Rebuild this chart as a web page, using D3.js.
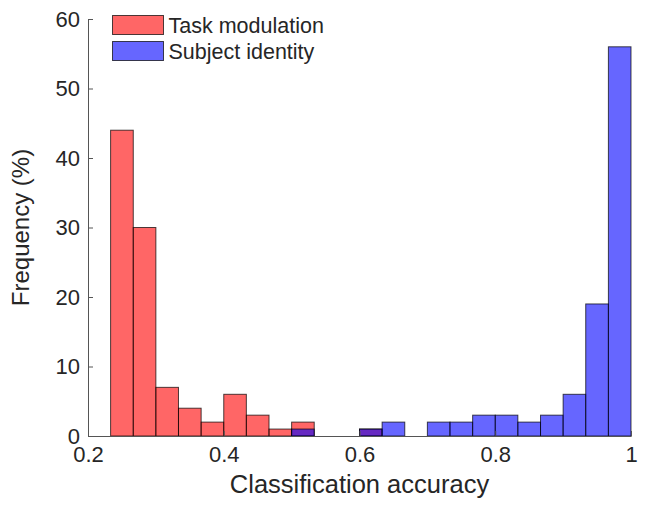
<!DOCTYPE html>
<html>
<head>
<meta charset="utf-8">
<script src="https://d3js.org/d3.v7.min.js"></script>
<style>
  body { margin: 0; background: #fff; }
  text { font-family: "Liberation Sans", Arial, sans-serif; fill: #262626; }
</style>
</head>
<body>
<script>
// bin edges (classification accuracy), 1/30 wide
const binEdges = [0.2333, 0.2667, 0.3, 0.3333, 0.3667, 0.4, 0.4333, 0.4667, 0.5, 0.5333,
  0.5667, 0.6, 0.6333, 0.6667, 0.7, 0.7333, 0.7667, 0.8, 0.8333, 0.8667, 0.9, 0.9333, 0.9667, 1.0];
const taskFreq = [44, 30, 7, 4, 2, 6, 3, 1, 2, 0, 0, 1, 0, 0, 0, 0, 0, 0, 0, 0, 0, 0, 0];
const subjectFreq = [0, 0, 0, 0, 0, 0, 0, 0, 1, 0, 0, 1, 2, 0, 2, 2, 3, 3, 2, 3, 6, 19, 56];
const xTicks = [0.2, 0.4, 0.6, 0.8, 1];
const yTicks = [0, 10, 20, 30, 40, 50, 60];
const seriesNames = ['Task modulation', 'Subject identity'];
const seriesColors = ['#ff0000', '#0000ff'];

const width = 645, height = 515;
const svg = d3.select('body').append('svg').attr('width', width).attr('height', height);

const x = d3.scaleLinear().domain([0.2, 1]).range([88, 631]);
const y = d3.scaleLinear().domain([0, 60]).range([436, 19]);

const series = [taskFreq, subjectFreq];

series.forEach((vals, s) => {
  svg.append('g').selectAll('rect')
    .data(vals.map((v, i) => ({ v, x0: binEdges[i], x1: binEdges[i + 1] })).filter(d => d.v > 0))
    .enter().append('rect')
    .attr('x', d => x(d.x0))
    .attr('y', d => y(d.v))
    .attr('width', d => x(d.x1) - x(d.x0))
    .attr('height', d => y(0) - y(d.v))
    .attr('fill', seriesColors[s])
    .attr('fill-opacity', 0.6)
    .attr('stroke', '#000')
    .attr('stroke-opacity', 0.7)
    .attr('stroke-width', 1);
});

// axes (MATLAB style: ticks inside, no box)
const xAxis = svg.append('g')
  .attr('transform', 'translate(0,' + y(0) + ')')
  .call(d3.axisBottom(x).tickValues(xTicks).tickSizeInner(-5).tickSizeOuter(0).tickPadding(10)
    .tickFormat(d => d3.format('')(d)));
const yAxis = svg.append('g')
  .attr('transform', 'translate(' + x(0.2) + ',0)')
  .call(d3.axisLeft(y).tickValues(yTicks).tickSizeInner(-5).tickSizeOuter(0).tickPadding(8));

[xAxis, yAxis].forEach(a => {
  a.selectAll('path, line').attr('stroke', '#555');
  a.selectAll('text').attr('font-size', 22).attr('fill', '#262626').attr('font-family', null);
});
xAxis.selectAll('text').attr('dy', '0.72em');

svg.append('text')
  .attr('x', (x(0.2) + x(1)) / 2)
  .attr('y', 493)
  .attr('text-anchor', 'middle')
  .attr('font-size', 25.5)
  .text('Classification accuracy');

svg.append('text')
  .attr('transform', 'translate(29,' + (y(0) + y(60)) / 2 + ') rotate(-90)')
  .attr('text-anchor', 'middle')
  .attr('font-size', 24)
  .text('Frequency (%)');

// legend
const legend = svg.append('g').selectAll('g')
  .data(seriesNames)
  .enter().append('g')
  .attr('transform', (d, i) => 'translate(112.5,' + (15.5 + i * 26) + ')');

legend.append('rect')
  .attr('width', 51)
  .attr('height', 19)
  .attr('fill', (d, i) => seriesColors[i])
  .attr('fill-opacity', 0.6)
  .attr('stroke', '#000')
  .attr('stroke-opacity', 0.7);

legend.append('text')
  .attr('x', 56)
  .attr('y', 17.5)
  .attr('font-size', 21.5)
  .text(d => d);
</script>
</body>
</html>
